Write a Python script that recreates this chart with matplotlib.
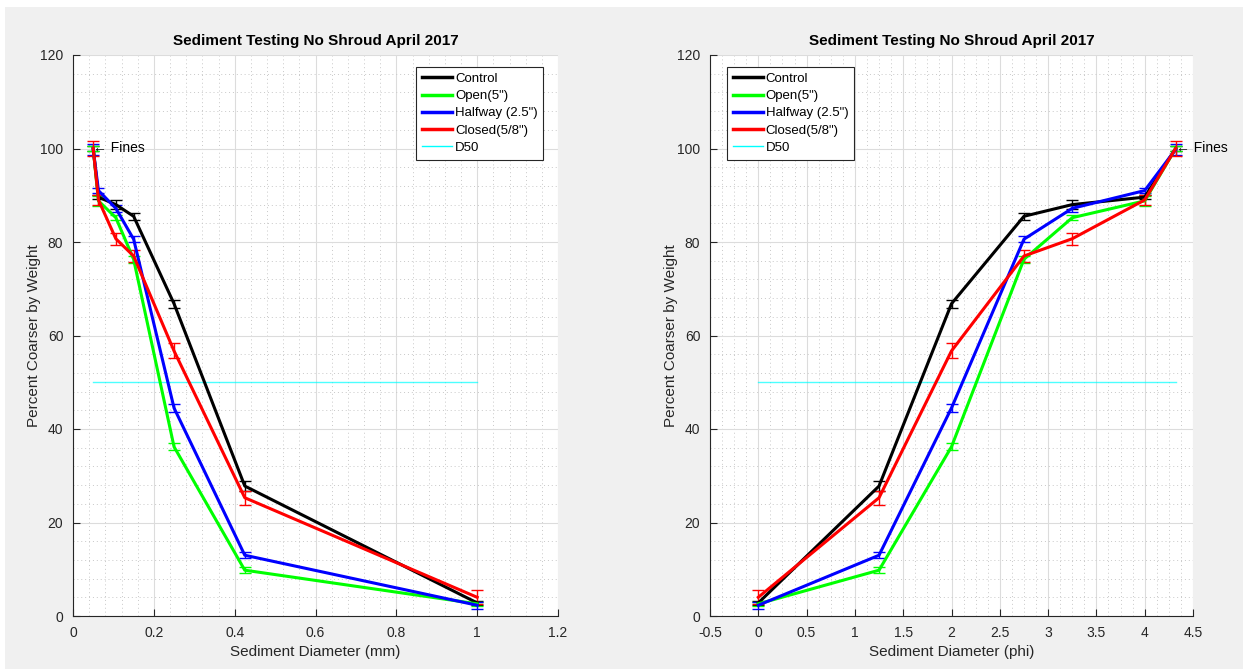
import matplotlib
matplotlib.use("Agg")
import matplotlib.pyplot as plt
from matplotlib.lines import Line2D
from matplotlib.patches import Rectangle
from matplotlib.ticker import MultipleLocator, AutoMinorLocator, FuncFormatter

plt.rcParams['font.family'] = ['Liberation Sans', 'DejaVu Sans']
plt.rcParams['axes.unicode_minus'] = False

# Sieve sizes (coarse -> fines) in mm and in phi units
diam_mm = [1.0, 0.425, 0.25, 0.15, 0.106, 0.063, 0.05]
diam_phi = [0.0, 1.25, 2.0, 2.75, 3.25, 4.0, 4.32]

series_names = ['Control', 'Open(5")', 'Halfway (2.5")', 'Closed(5/8")']
series_colors = ['#000000', '#00ff00', '#0000ff', '#ff0000']

control = [2.8, 27.8, 66.8, 85.5, 88.0, 89.6, 100.0]
control_err = [0.5, 1.0, 0.9, 0.8, 1.0, 0.5, 0.5]
open5 = [2.6, 9.8, 36.2, 76.3, 85.2, 88.8, 100.0]
open5_err = [0.4, 0.6, 0.7, 0.7, 0.6, 1.0, 0.5]
halfway = [2.3, 13.0, 44.5, 80.6, 87.2, 91.0, 99.8]
halfway_err = [0.8, 0.7, 0.8, 0.7, 0.8, 0.6, 1.1]
closed = [4.0, 25.3, 56.7, 77.0, 80.7, 89.0, 100.0]
closed_err = [1.5, 1.5, 1.6, 1.3, 1.3, 1.0, 1.6]

series_vals = [control, open5, halfway, closed]
series_errs = [control_err, open5_err, halfway_err, closed_err]

d50 = 50
title = 'Sediment Testing No Shroud April 2017'

W, H = 1243, 669
fig = plt.figure(figsize=(W / 100, H / 100), dpi=100, facecolor='white')
# light grey window background with a thin white margin
fig.patches.append(Rectangle((5 / W, 0), 1 - 5 / W, 1 - 7 / H,
                             transform=fig.transFigure, facecolor='#f0f0f0',
                             edgecolor='none', zorder=-10))

ax_l = fig.add_axes([73 / W, 1 - 616 / H, (558 - 73) / W, (616 - 55) / H])
ax_r = fig.add_axes([710 / W, 1 - 616 / H, (1193 - 710) / W, (616 - 55) / H])

spine_col = '#262626'
short_fmt = FuncFormatter(lambda v, _: f'{v:g}')


def style_axes(ax, xlim, xmajor, xminor_div):
    ax.set_facecolor('white')
    ax.set_xlim(*xlim)
    ax.set_ylim(0, 120)
    ax.xaxis.set_major_locator(MultipleLocator(xmajor))
    ax.yaxis.set_major_locator(MultipleLocator(20))
    ax.xaxis.set_major_formatter(short_fmt)
    ax.yaxis.set_major_formatter(short_fmt)
    ax.xaxis.set_minor_locator(AutoMinorLocator(xminor_div))
    ax.yaxis.set_minor_locator(AutoMinorLocator(5))
    ax.grid(which='major', color='#dcdcdc', linewidth=0.8, linestyle='-')
    ax.grid(which='minor', color='#c8c8c8', linewidth=0.7, linestyle=(0, (1, 3)))
    ax.set_axisbelow(True)
    for s in ['top', 'right']:
        ax.spines[s].set_visible(False)
    for s in ['left', 'bottom']:
        ax.spines[s].set_color(spine_col)
        ax.spines[s].set_linewidth(0.8)
    ax.tick_params(which='major', direction='in', length=5, width=0.8,
                   colors=spine_col, labelsize=10, pad=7)
    ax.tick_params(which='minor', length=0)
    ax.set_title(title, fontsize=11, fontweight='bold', color='black', pad=7)
    ax.set_ylabel('Percent Coarser by Weight', fontsize=11, color='#262626',
                  labelpad=-1)


def draw_series(ax, xs):
    for vals, errs, col in zip(series_vals, series_errs, series_colors):
        ax.errorbar(xs, vals, yerr=errs, color=col, linewidth=2.2,
                    elinewidth=1.0, capsize=4, capthick=1.0, zorder=3)
    ax.plot([xs[-1], xs[0]], [d50, d50], color='#00ffff', linewidth=1.0,
            alpha=0.7, zorder=2)


style_axes(ax_l, (0, 1.2), 0.2, 5)
draw_series(ax_l, diam_mm)
ax_l.set_xlabel('Sediment Diameter (mm)', fontsize=11, color='#262626')
ax_l.text(diam_mm[-1], 100, '\u2190 Fines', fontsize=10, ha='left',
          va='center', color='black', zorder=4)

style_axes(ax_r, (-0.5, 4.5), 0.5, 4)
draw_series(ax_r, diam_phi)
ax_r.set_xlabel('Sediment Diameter (phi)', fontsize=11, color='#262626')
ax_r.text(diam_phi[-1], 100, '\u2190 Fines', fontsize=10, ha='left',
          va='center', color='black', zorder=4, clip_on=False)

handles = [Line2D([], [], color=c, linewidth=2.5) for c in series_colors]
handles.append(Line2D([], [], color='#00ffff', linewidth=1.0))
labels = series_names + ['D50']
for ax, loc, anchor in [(ax_l, 'upper right', (0.97, 0.979)),
                        (ax_r, 'upper left', (0.035, 0.979))]:
    leg = ax.legend(handles, labels, loc=loc, bbox_to_anchor=anchor,
                    fontsize=9.5, frameon=True, fancybox=False,
                    handlelength=2.3, handletextpad=0.2, borderpad=0.45,
                    labelspacing=0.38, borderaxespad=0)
    leg.get_frame().set_edgecolor('#262626')
    leg.get_frame().set_linewidth(0.8)
    leg.get_frame().set_facecolor('white')
    leg.get_frame().set_alpha(1)

fig.savefig('out.png', dpi=100, facecolor=fig.get_facecolor())
